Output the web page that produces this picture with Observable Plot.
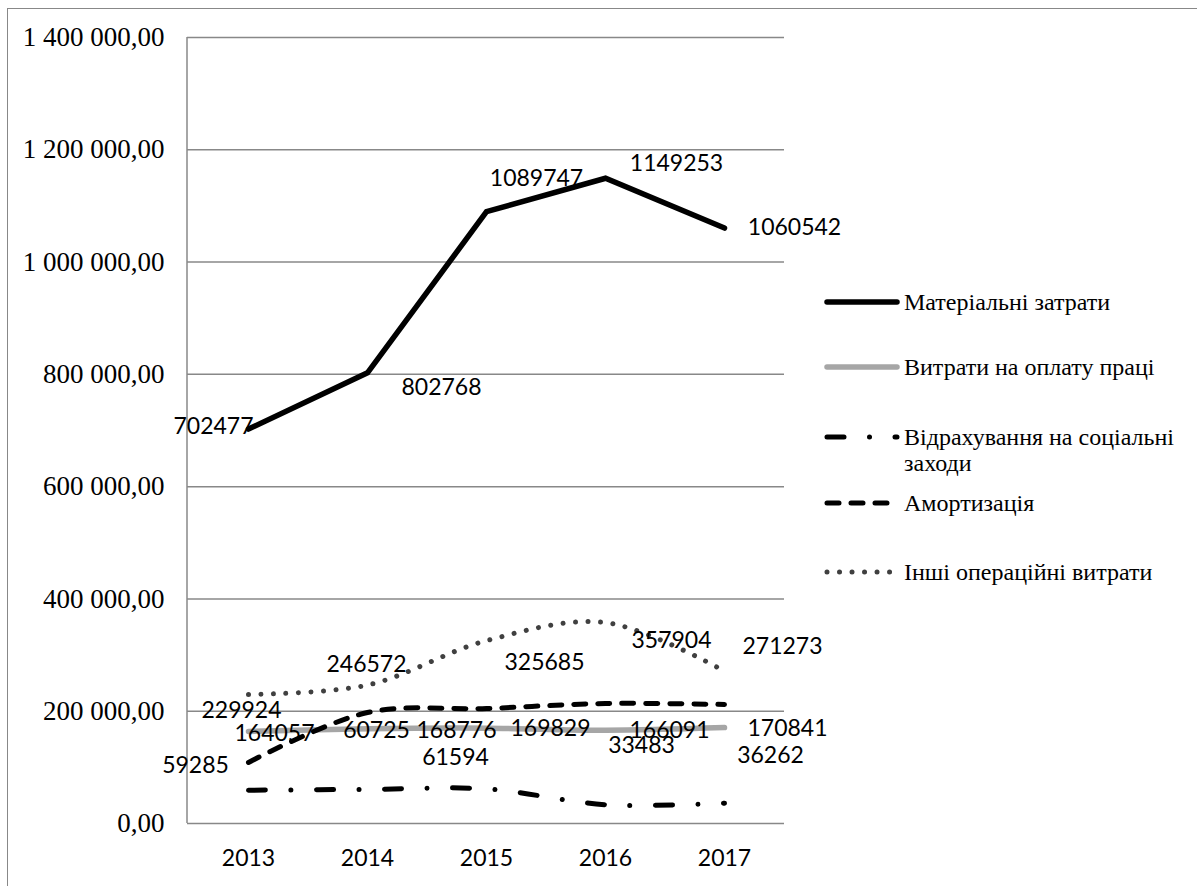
<!DOCTYPE html>
<html>
<head>
<meta charset="utf-8">
<script src="https://cdn.jsdelivr.net/npm/d3@7"></script>
<script src="https://cdn.jsdelivr.net/npm/@observablehq/plot@0.6"></script>
<style>
  html, body { margin: 0; padding: 0; background: #fff; }
  #wrap { position: relative; width: 1197px; height: 886px; overflow: hidden; }
  #frame { position: absolute; left: 7px; top: 8px; width: 1300px; height: 1000px;
           border-left: 1.5px solid #888; border-top: 1.5px solid #888; pointer-events: none; }
  #chart { position: absolute; left: 0; top: 0; }
  .leg { position: absolute; left: 824px; display: flex; align-items: flex-start;
         font-family: "Times New Roman", "Liberation Serif", "Noto Serif", "DejaVu Serif", serif;
         font-size: 24px; line-height: 26px; color: #000; }
  .leg svg { flex: none; margin-top: 8px; }
  .leg span { margin-left: 4px; white-space: nowrap; }
</style>
</head>
<body>
<div id="wrap">
  <div id="chart"></div>
  <div id="frame"></div>
</div>
<script>
// ---------- data ----------
const years = ["2013", "2014", "2015", "2016", "2017"];
const seriesNames = [
  "Матеріальні затрати",
  "Витрати на оплату праці",
  "Відрахування на соціальні заходи",
  "Амортизація",
  "Інші операційні витрати"
];
const material = [702477, 802768, 1089747, 1149253, 1060542];
const labor    = [164057, 168776, 169829, 166091, 170841];
const social   = [59285, 60725, 61594, 33483, 36262];
const amort    = [108700, 197700, 204800, 213700, 212000];
const other    = [229924, 246572, 325685, 357904, 271273];
const yTicks   = [0, 200000, 400000, 600000, 800000, 1000000, 1200000, 1400000];

// which series show data labels
const labelled = [true, true, true, false, true];

// ---------- styles / layout ----------
const styles = [
  {stroke: "#000", strokeWidth: 5.5, dash: null, curve: "linear", join: "miter"},
  {stroke: "#a6a6a6", strokeWidth: 5.5, dash: null, curve: "catmull-rom", join: "round"},
  {stroke: "#000", strokeWidth: 5, dash: "17 25.5 0.01 25.5", curve: "catmull-rom", join: "round"},
  {stroke: "#000", strokeWidth: 5, dash: "12 12", curve: "catmull-rom", join: "round"},
  {stroke: "#404040", strokeWidth: 5, dash: "0.01 12.5", curve: "catmull-rom", join: "round"}
];
// label offsets (px) relative to each point, per series
const labelOffsets = [
  [[-35, -2], [74, 15], [50, -33], [71, -15], [70, 0]],
  [[26, 2], [89, 2], [64, 0], [64, 0], [63, 1]],
  [[-53, -25], [9, -59], [-31, -31], [36, -59], [46, -48]],
  null,
  [[-7, 16], [-1, -20], [58, 22], [66, 18], [58, -25]]
];
const legendCenters = [302, 367, 437, 503, 572];

const values = [material, labor, social, amort, other];
const tables = values.map((arr, s) => years.map((yr, i) => ({year: yr, value: arr[i], series: seriesNames[s]})));

const fmt = d3.formatLocale({decimal: ",", thousands: " ", grouping: [3], currency: ["", ""]}).format(",.2f");
const sansFont = "Lato, 'Open Sans', sans-serif";
const serifFont = "'Times New Roman', 'Liberation Serif', 'Noto Serif', 'DejaVu Serif', serif";

const marks = [];
// gridlines
marks.push(Plot.gridY(yTicks, {stroke: "#888", strokeOpacity: 1, strokeWidth: 1.5}));
// left axis line
marks.push((index, scales, vals, dims) => {
  const l = d3.create("svg:line")
    .attr("x1", dims.marginLeft).attr("x2", dims.marginLeft)
    .attr("y1", dims.marginTop).attr("y2", dims.height - dims.marginBottom)
    .attr("stroke", "#888").attr("stroke-width", 1.5);
  return l.node();
});
marks.push(Plot.axisY(yTicks, {tickSize: 0, tickPadding: 23, tickFormat: fmt,
  fontFamily: serifFont, fontSize: 27, fill: "#000", label: null}));
marks.push(Plot.axisX({tickSize: 0, tickPadding: 26, fontFamily: sansFont, fontSize: 23, fill: "#000", label: null}));

// lines
const drawOrder = [1, 2, 3, 4, 0];
drawOrder.forEach(s => {
  const st = styles[s];
  marks.push(Plot.line(tables[s], {x: "year", y: "value", stroke: st.stroke, strokeWidth: st.strokeWidth,
    strokeDasharray: st.dash || undefined, strokeLinecap: "round", strokeLinejoin: st.join,
    curve: st.curve, strokeMiterlimit: 10}));
});

// data labels (drawn on top of lines)
tables.forEach((tbl, s) => {
  if (!labelled[s]) return;
  tbl.forEach((d, i) => {
    const [dx, dy] = labelOffsets[s][i];
    marks.push(Plot.text([d], {x: "year", y: "value", text: dd => String(dd.value),
      dx, dy, fontFamily: sansFont, fontSize: 23, fill: "#000", textAnchor: "middle"}));
  });
});

const chart = Plot.plot({
  width: 1197,
  height: 886,
  marginLeft: 187,
  marginRight: 413,
  marginTop: 37,
  marginBottom: 63,
  style: {background: "transparent", overflow: "visible"},
  x: {type: "point", domain: years, padding: 0.5},
  y: {domain: [0, 1400000]},
  marks
});
document.getElementById("chart").appendChild(chart);

// legend
const wrap = document.getElementById("wrap");
seriesNames.forEach((name, s) => {
  const st = styles[s];
  const item = document.createElement("div");
  item.className = "leg";
  item.style.top = (legendCenters[s] - 13) + "px";
  const svg = d3.create("svg").attr("width", 76).attr("height", 10);
  svg.append("line").attr("x1", 3).attr("x2", 73).attr("y1", 5).attr("y2", 5)
    .attr("stroke", st.stroke).attr("stroke-width", st.strokeWidth)
    .attr("stroke-linecap", "round")
    .attr("stroke-dasharray", st.dash || null);
  item.appendChild(svg.node());
  const span = document.createElement("span");
  if (s === 2) {
    span.innerHTML = "Відрахування на соціальні<br>заходи";
  } else {
    span.textContent = name;
  }
  item.appendChild(span);
  wrap.appendChild(item);
});
</script>
</body>
</html>
